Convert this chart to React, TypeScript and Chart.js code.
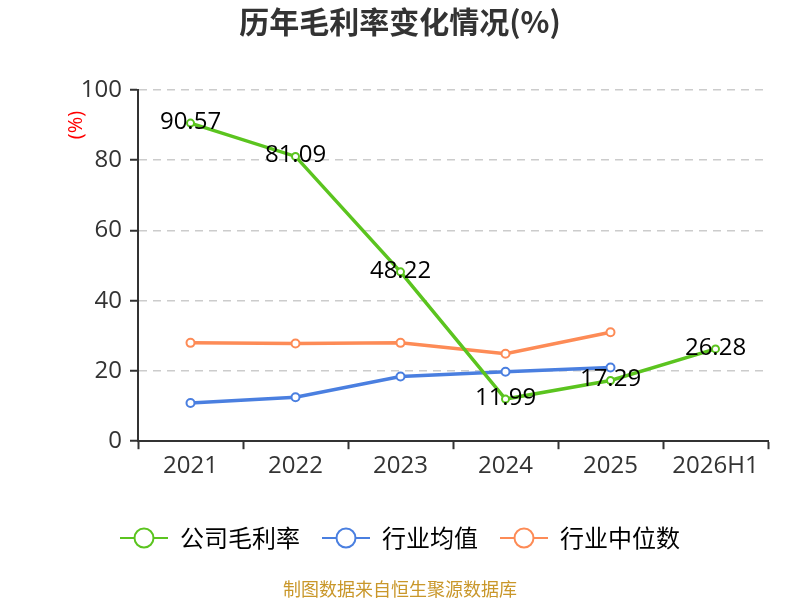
import React, { useEffect, useRef } from 'react';
import { Chart, registerables } from 'chart.js';

Chart.register(...registerables);

const years = ['2021', '2022', '2023', '2024', '2025', '2026H1'];
const companyMargin = [90.57, 81.09, 48.22, 11.99, 17.29, 26.28];
const industryMean = [10.9, 12.5, 18.4, 19.8, 21.0, null];
const industryMedian = [28.0, 27.8, 28.0, 24.9, 31.0, null];

const GREEN = '#5bc41f';
const BLUE = '#4a7fe0';
const ORANGE = '#fd8b56';
const FONT = '"Open Sans", "Noto Sans CJK SC", sans-serif';
const CJK = '"Noto Sans CJK SC", sans-serif';

// legend icon: a short line with a hollow circle on it
function legendIcon(color: string) {
  const c = document.createElement('canvas');
  c.width = 48;
  c.height = 24;
  const ctx = c.getContext('2d');
  if (ctx) {
    ctx.strokeStyle = color;
    ctx.lineWidth = 2;
    ctx.beginPath();
    ctx.moveTo(0, 12);
    ctx.lineTo(48, 12);
    ctx.stroke();
    ctx.beginPath();
    ctx.arc(24, 12, 9.5, 0, Math.PI * 2);
    ctx.fillStyle = '#fff';
    ctx.fill();
    ctx.stroke();
  }
  return c;
}

const extrasPlugin = {
  id: 'extras',
  afterDatasetsDraw(chart: any) {
    const { ctx } = chart;
    const meta = chart.getDatasetMeta(0);
    ctx.save();
    ctx.font = `24px ${FONT}`;
    ctx.fillStyle = '#000';
    ctx.textAlign = 'center';
    ctx.textBaseline = 'middle';
    meta.data.forEach((pt: any, i: number) => {
      ctx.fillText(companyMargin[i].toFixed(2), pt.x, pt.y - 1);
    });
    ctx.restore();
  },
  afterDraw(chart: any) {
    const { ctx } = chart;
    ctx.save();
    // unit label
    ctx.translate(76, 125);
    ctx.rotate(-Math.PI / 2);
    ctx.font = `20px ${FONT}`;
    ctx.fillStyle = '#ff0000';
    ctx.textAlign = 'center';
    ctx.textBaseline = 'middle';
    ctx.fillText('(%)', 0, 0);
    ctx.restore();
    // source note
    ctx.save();
    ctx.font = `18px ${CJK}`;
    ctx.fillStyle = '#c9972a';
    ctx.textAlign = 'center';
    ctx.textBaseline = 'middle';
    ctx.fillText('制图数据来自恒生聚源数据库', 400, 589);
    ctx.restore();
  },
};

const App: React.FC = () => {
  const chartRef = useRef<HTMLCanvasElement>(null);

  useEffect(() => {
    if (!chartRef.current) return;
    const icons = [legendIcon(GREEN), legendIcon(BLUE), legendIcon(ORANGE)];
    const lineSet = (label: string, data: any[], color: string, r: number) => ({
      label,
      data,
      borderColor: color,
      backgroundColor: '#fff',
      borderWidth: 3.5,
      pointRadius: r,
      pointBorderWidth: 2,
      pointBackgroundColor: '#fff',
      pointStyle: 'circle',
    });

    const chart = new Chart(chartRef.current, {
      type: 'line',
      data: {
        labels: years,
        datasets: [
          lineSet('公司毛利率', companyMargin, GREEN, 3.5),
          lineSet('行业均值', industryMean, BLUE, 4),
          lineSet('行业中位数', industryMedian, ORANGE, 4),
        ] as any,
      },
      options: {
        animation: false,
        responsive: false,
        devicePixelRatio: 1,
        layout: { padding: { left: 0, right: 0, top: 0, bottom: 40 } },
        plugins: {
          title: {
            display: true,
            text: '历年毛利率变化情况(%)',
            color: '#333',
            font: { size: 30, weight: 'bold', family: CJK },
            padding: { top: 4, bottom: 50 },
          },
          legend: {
            position: 'bottom',
            labels: {
              color: '#333',
              font: { size: 24, family: CJK },
              usePointStyle: true,
              pointStyleWidth: 48,
              padding: 22,
              generateLabels: (ch: any) =>
                ch.data.datasets.map((ds: any, i: number) => ({
                  text: ds.label,
                  pointStyle: icons[i],
                  fillStyle: '#fff',
                  strokeStyle: ds.borderColor,
                  lineWidth: 0,
                  hidden: false,
                  datasetIndex: i,
                })),
            },
          },
          tooltip: { enabled: false },
        },
        scales: {
          x: {
            offset: true,
            afterFit: (scale: any) => {
              scale.height += 20;
            },
            grid: {
              display: true,
              drawOnChartArea: false,
              drawTicks: true,
              tickLength: 8,
              tickColor: '#333',
              tickWidth: 2,
              offset: true,
            },
            border: { color: '#333', width: 2 },
            ticks: { color: '#333', font: { size: 24, family: FONT }, padding: 3 },
          },
          y: {
            min: 0,
            max: 100,
            afterFit: (scale: any) => {
              scale.width = 138;
            },
            ticks: { stepSize: 20, color: '#333', font: { size: 24, family: FONT }, padding: 8 },
            grid: {
              color: '#cccccc',
              lineWidth: 1.5,
              tickColor: '#333',
              tickLength: 8,
              tickWidth: 2,
            },
            border: { color: '#333', width: 2, dash: [8, 6] },
          },
          // empty right-hand spacer so the title and legend stay centred on the page
          spacer: {
            type: 'linear',
            position: 'right',
            display: true,
            afterFit: (scale: any) => {
              scale.width = 32;
            },
            ticks: { display: false },
            grid: { display: false, drawOnChartArea: false, drawTicks: false },
            border: { display: false },
          },
        },
      } as any,
      plugins: [extrasPlugin],
    });

    return () => {
      chart.destroy();
    };
  }, []);

  return (
    <div style={{ position: 'fixed', left: 0, top: 0, width: 800, height: 600, background: '#fff' }}>
      <canvas ref={chartRef} width={800} height={600} />
    </div>
  );
};

export default App;
